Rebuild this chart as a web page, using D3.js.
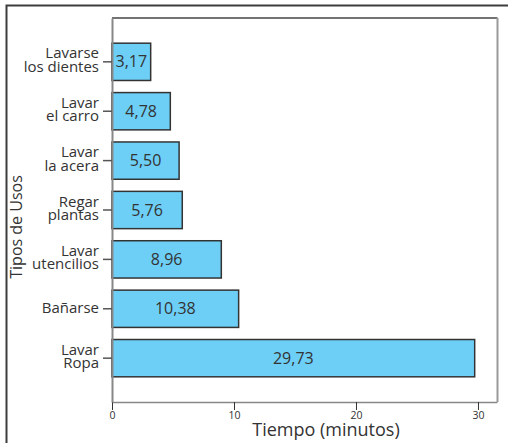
<!DOCTYPE html>
<html>
<head>
<meta charset="utf-8">
<script src="https://cdn.jsdelivr.net/npm/d3@7"></script>
<style>
  html, body { margin: 0; padding: 0; background: #fff; }
  svg { display: block; }
  text { font-family: "Open Sans", sans-serif; fill: #333; font-weight: 500; }
</style>
</head>
<body>
<svg id="chart" width="508" height="443"></svg>
<script>
// Tipos de uso del agua y tiempo promedio (minutos)
const categories = [
  ["Lavarse", "los dientes"],
  ["Lavar", "el carro"],
  ["Lavar", "la acera"],
  ["Regar", "plantas"],
  ["Lavar", "utencilios"],
  ["Bañarse"],
  ["Lavar", "Ropa"]
];
const minutes = [3.17, 4.78, 5.50, 5.76, 8.96, 10.38, 29.73];
const valueLabels = ["3,17", "4,78", "5,50", "5,76", "8,96", "10,38", "29,73"];
const xTicks = [0, 10, 20, 30];
const xAxisMax = 31.6;

const svg = d3.select("#chart");
const plot = { left: 112, right: 497.5, top: 18, bottom: 402 };

const keys = categories.map(c => c.join(" "));
const x = d3.scaleLinear().domain([0, xAxisMax]).range([plot.left, plot.right]);
const y = d3.scaleBand().domain(keys).range([plot.top, plot.bottom])
  .paddingInner(0.245).paddingOuter(0.51);

// outer frame (left and top edges)
svg.append("path")
  .attr("d", `M6.5,443 V5.5 H508`)
  .attr("fill", "none").attr("stroke", "#3d3d3d").attr("stroke-width", 2);

// plot frame
svg.append("line").attr("x1", plot.left).attr("x2", plot.right).attr("y1", plot.top).attr("y2", plot.top)
  .attr("stroke", "#444").attr("stroke-width", 1.5);
svg.append("line").attr("x1", plot.right).attr("x2", plot.right).attr("y1", plot.top).attr("y2", plot.bottom)
  .attr("stroke", "#999").attr("stroke-width", 2);

// bars
const rows = keys.map((k, i) => ({ key: k, lines: categories[i], value: minutes[i], label: valueLabels[i] }));
svg.append("g").selectAll("rect").data(rows).join("rect")
  .attr("x", x(0))
  .attr("y", d => y(d.key))
  .attr("width", d => x(d.value) - x(0))
  .attr("height", y.bandwidth())
  .attr("fill", "#6dcff6")
  .attr("stroke", "#333").attr("stroke-width", 1.5);

svg.append("g").selectAll("text").data(rows).join("text")
  .attr("x", d => (x(0) + x(d.value)) / 2)
  .attr("y", d => y(d.key) + y.bandwidth() / 2 + 5.5)
  .attr("text-anchor", "middle")
  .attr("font-size", 16)
  .text(d => d.label);

// x axis
const xAxis = svg.append("g").attr("transform", `translate(0,${plot.bottom})`)
  .call(d3.axisBottom(x).tickValues(xTicks).tickSize(8).tickPadding(2).tickFormat(d3.format("d")));
xAxis.select(".domain").attr("stroke", "#888").attr("stroke-width", 1.5).attr("d", `M${plot.left},0.5H${plot.right}`);
xAxis.selectAll(".tick line").attr("stroke", "#333").attr("stroke-width", 1);
xAxis.selectAll(".tick text").attr("font-size", 10.5).attr("font-family", "Open Sans").attr("fill", "#333");

// y axis
const yAxis = svg.append("g").attr("transform", `translate(${plot.left},0)`)
  .call(d3.axisLeft(y).tickSize(9).tickSizeOuter(0).tickFormat(""));
yAxis.select(".domain").attr("stroke", "#888").attr("stroke-width", 2);
yAxis.selectAll(".tick line").attr("stroke", "#555").attr("stroke-width", 1.5);

const catLabels = svg.append("g").selectAll("text").data(rows).join("text")
  .attr("text-anchor", "end")
  .attr("font-size", 15);
catLabels.each(function(d) {
  const c = y(d.key) + y.bandwidth() / 2;
  const t = d3.select(this);
  const base = d.lines.length === 1 ? [c + 4] : [c - 3.5, c + 10];
  d.lines.forEach((ln, i) => {
    t.append("tspan").attr("x", 99).attr("y", base[i]).text(ln);
  });
});

// axis titles
svg.append("text")
  .attr("x", 326).attr("y", 436)
  .attr("text-anchor", "middle")
  .attr("font-size", 18)
  .text("Tiempo (minutos)");

svg.append("text")
  .attr("transform", "translate(22,227) rotate(-90)")
  .attr("text-anchor", "middle")
  .attr("font-size", 16)
  .text("Tipos de Usos");
</script>
</body>
</html>
